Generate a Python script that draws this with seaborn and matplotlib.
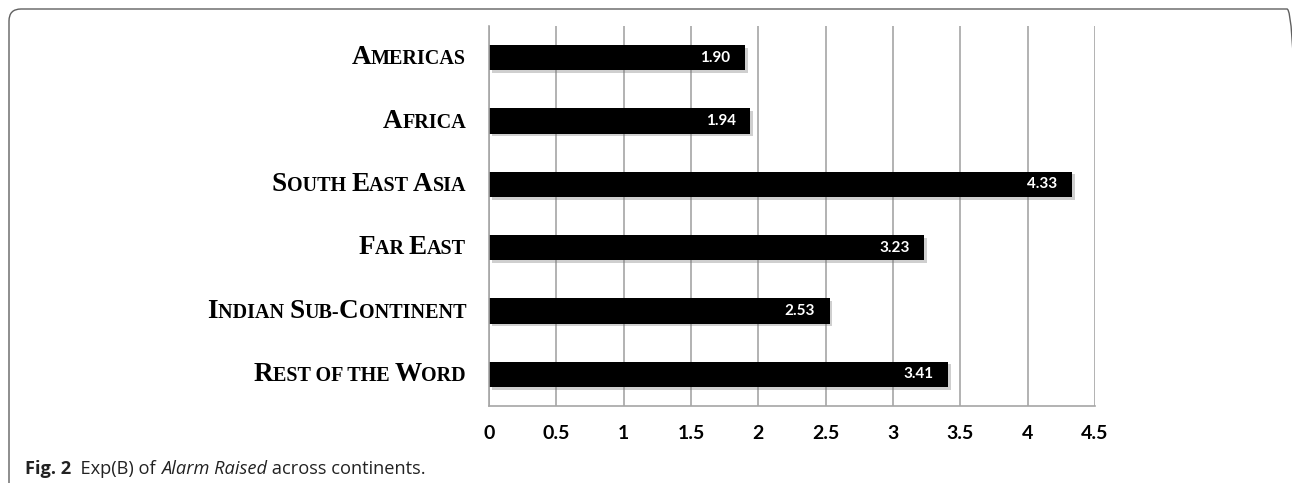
import matplotlib
matplotlib.use("Agg")
import matplotlib.pyplot as plt
import matplotlib.patches as mpatches
import matplotlib.patheffects as pe
from matplotlib.offsetbox import TextArea, HPacker, AnnotationBbox
from matplotlib.transforms import IdentityTransform
import numpy as np
import seaborn as sns

# data
regions = ["Americas", "Africa", "South East Asia", "Far East",
           "Indian Sub-Continent", "Rest of the Word"]
exp_b = [1.90, 1.94, 4.33, 3.23, 2.53, 3.41]
x_ticks = [0, 0.5, 1, 1.5, 2, 2.5, 3, 3.5, 4, 4.5]

GRID = "#a6a6a6"
W, H = 1292, 483

sns.set_style("white")
plt.rcParams["font.family"] = ["DejaVu Sans"]

fig = plt.figure(figsize=(W / 100, H / 100), dpi=100)
ax = fig.add_axes([489 / W, 1 - 406 / H, (1095 - 489) / W, (406 - 26) / H])

sns.barplot(x=exp_b, y=regions, orient="h", color="black", saturation=1,
            width=0.4, ax=ax)
for p in ax.patches:
    p.set_edgecolor("none")
    p.set_path_effects([pe.SimplePatchShadow(offset=(2, -2), shadow_rgbFace="#777777", alpha=0.35),
                        pe.Normal()])

ax.set_xlim(0, 4.5)
ax.set_ylim(5.5, -0.5)
ax.set_xlabel("")
ax.set_ylabel("")
ax.set_axisbelow(True)
ax.xaxis.grid(True, color=GRID, lw=1.2)
ax.yaxis.grid(False)
for s in ["top", "right"]:
    ax.spines[s].set_visible(False)
for s in ["left", "bottom"]:
    ax.spines[s].set_color(GRID)
    ax.spines[s].set_linewidth(1.2)

ax.set_xticks(x_ticks)
ax.set_xticklabels([f"{t:g}" for t in x_ticks], fontfamily="Lato",
                   fontweight="bold", fontsize=14, color="black")
ax.tick_params(axis="x", direction="out", length=5.5, width=1.2, color=GRID, pad=8)
ax.set_yticks(np.arange(-0.5, 6.0, 1.0))
ax.set_yticklabels([])
ax.tick_params(axis="y", direction="out", length=5, width=1.2, color=GRID)

# value labels inside bar ends
for i, v in enumerate(exp_b):
    ax.annotate(f"{v:.2f}", xy=(v, i), xytext=(-10.5, 0), textcoords="offset points",
                ha="right", va="center", color="white", fontweight="bold",
                fontsize=11, fontfamily="Lato")


def small_caps(label, big=19.5, small=14.5):
    # group chars: capitals big, everything else small upper
    parts = []
    for ch in label:
        is_big = ch.isupper()
        if parts and parts[-1][1] == is_big:
            parts[-1][0] += ch.upper()
        else:
            parts.append([ch.upper(), is_big])
    areas = [TextArea(t, textprops=dict(fontfamily="Liberation Serif", fontweight="bold",
                                        fontsize=big if b else small, color="black"))
             for t, b in parts]
    return HPacker(children=areas, align="baseline", pad=0, sep=0)


for i, name in enumerate(regions):
    ab = AnnotationBbox(small_caps(name), xy=(0, i),
                        xycoords=("axes fraction", "data"),
                        xybox=(-16.5, 0), boxcoords="offset points",
                        box_alignment=(1, 0.5), frameon=False, pad=0,
                        annotation_clip=False)
    ax.add_artist(ab)

# caption: mixed bold / italic pieces, sized to span x 25..425 px
cap_parts = [("Fig. 2", "normal", "bold"), ("  Exp(B) of ", "normal", "normal"),
             ("Alarm Raised", "italic", "normal"), (" across continents.", "normal", "normal")]


def caption_ab(size):
    box = HPacker(children=[TextArea(t, textprops=dict(fontfamily="Open Sans", fontstyle=st,
                                                       fontweight=wt, fontsize=size,
                                                       color="#222222"))
                            for t, st, wt in cap_parts],
                  align="baseline", pad=0, sep=0)
    return AnnotationBbox(box, xy=(25, H - 469), xycoords="figure pixels",
                          box_alignment=(0, 0.5), frameon=False, pad=0,
                          annotation_clip=False)


probe = caption_ab(12)
ax.add_artist(probe)
fig.canvas.draw()
cap_w = probe.offsetbox.get_window_extent(fig.canvas.get_renderer()).width
probe.remove()
ax.add_artist(caption_ab(12 * 400 / cap_w))

# rounded frame around the figure
frame = mpatches.FancyBboxPatch((9, -30), 1290, H - 9 + 30, boxstyle="round,pad=0,rounding_size=12",
                                transform=IdentityTransform(), fill=False,
                                edgecolor="#606060", lw=1.0)
fig.patches.append(frame)

fig.savefig("out.png", dpi=100)
